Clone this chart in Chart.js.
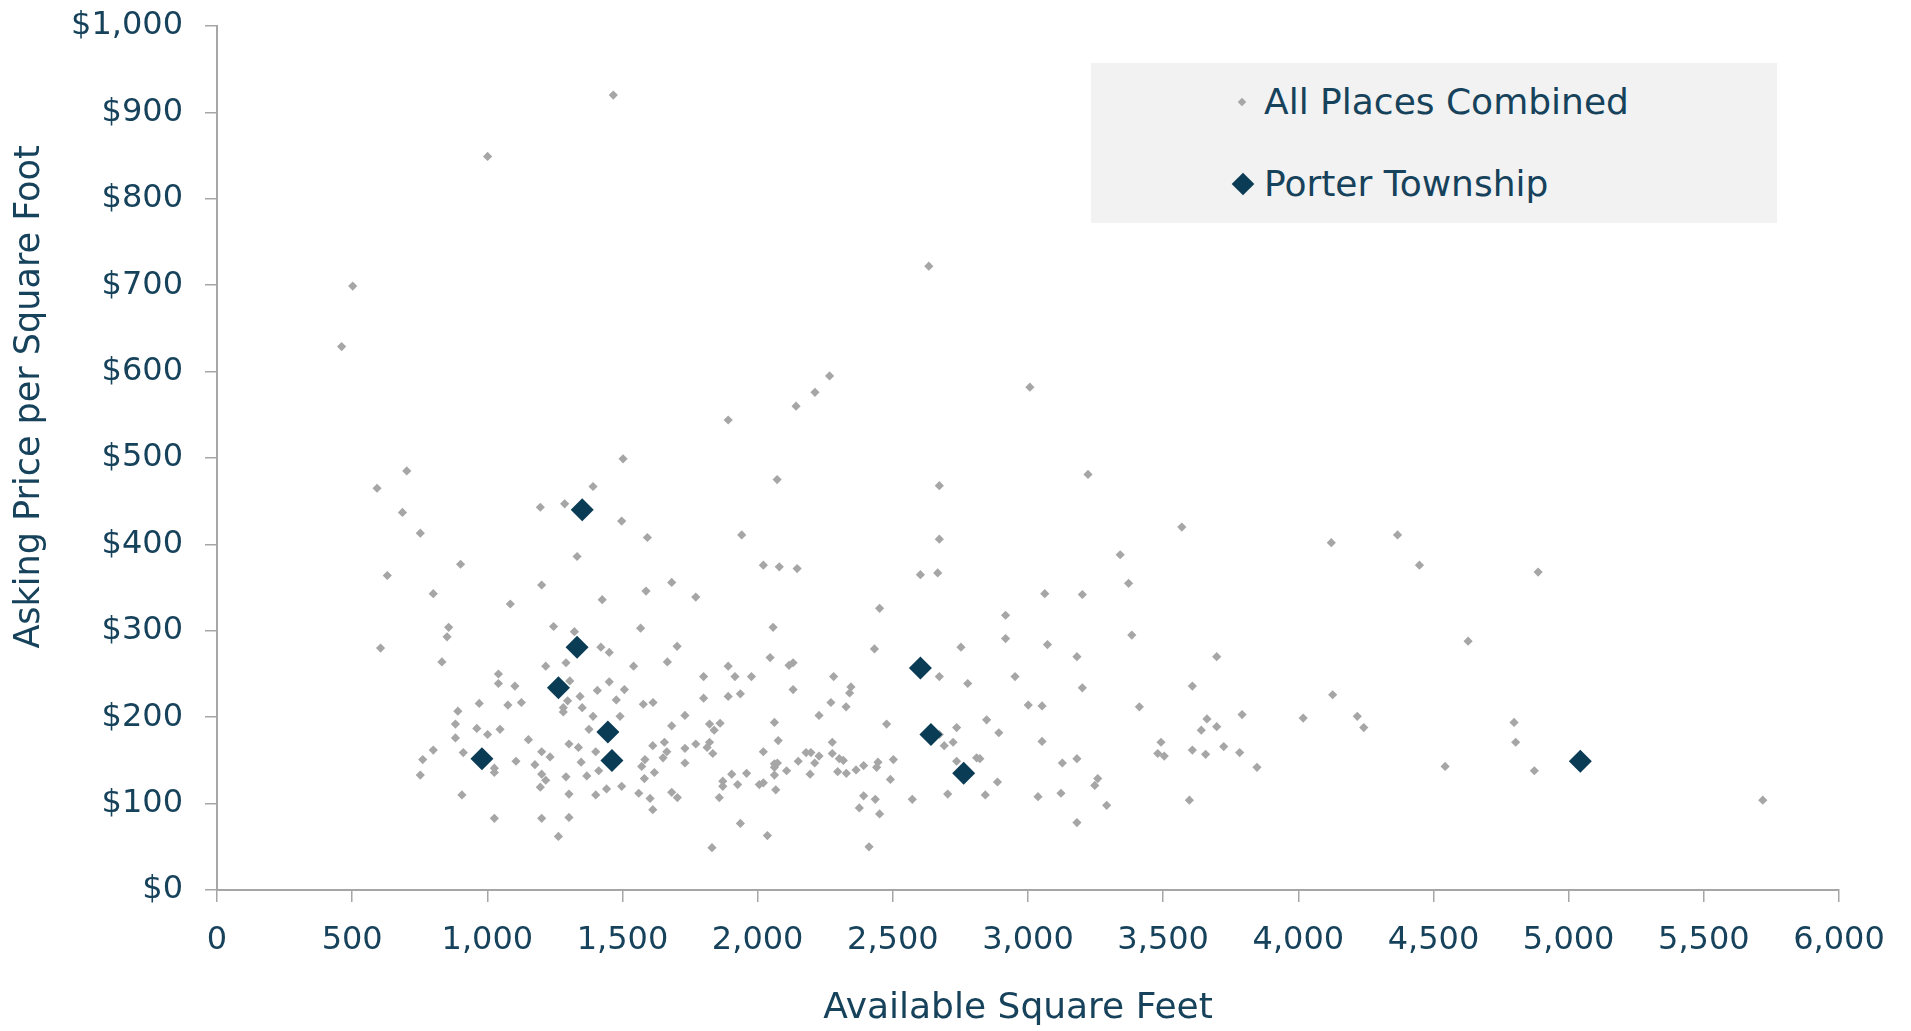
<!DOCTYPE html>
<html>
<head>
<meta charset="utf-8">
<script src="https://cdn.jsdelivr.net/npm/chart.js@4.4.1/dist/chart.umd.min.js"></script>
<style>
    body { margin: 0; background: #ffffff; }
    #caixa { position: relative; width: 1911px; height: 1031px; }
    #legenda {
        position: absolute; left: 1091px; top: 63px; width: 686px; height: 160px;
        background: #f2f2f2; font-family: "DejaVu Sans", sans-serif; color: #16425b;
    }
    .item { position: absolute; left: 0; height: 40px; line-height: 40px; font-size: 36px; }
    .item span { position: absolute; left: 173px; white-space: nowrap; }
    .marca { position: absolute; transform: rotate(45deg); }
</style>
</head>
<body>
<div id="caixa">
    <canvas id="grafico"></canvas>
    <div id="legenda">
        <div class="item" style="top:19px">
            <div class="marca" style="left:148px;top:17px;width:6px;height:6px;background:#a6a6a6"></div>
            <span>All Places Combined</span>
        </div>
        <div class="item" style="top:101px">
            <div class="marca" style="left:144px;top:12px;width:16px;height:16px;background:#0b3c55"></div>
            <span>Porter Township</span>
        </div>
    </div>
</div>
<script>
// pontos de todos os lugares (area em pes quadrados, preco por pe quadrado)
var todosArea = [
    702, 592, 686, 752, 1196, 901, 630, 800, 1201, 1085, 857, 851, 1245, 605, 832, 1216, 1041, 1041, 1102, 970,
    1076, 1126, 891, 882, 961, 1001, 1047, 882, 1152, 800, 761, 911, 1201, 1232, 1106, 1176, 1026, 1026, 752, 1201,
    1216, 1196, 906, 1026, 1201, 1263,
    1502, 1391, 2072, 1286, 1497, 1592, 1941, 1332, 2021, 2080, 2146, 1682, 1587, 1771, 1425, 1322, 1567, 2057, 1420, 1451,
    1702, 1666, 1541, 1291, 2046, 2116, 2131, 1891, 1916, 1977, 1800, 2131, 1305, 1407, 1451, 1507, 1800, 1891, 1936, 1343,
    1297, 1477, 1577, 1613, 1281, 1281, 1351, 1391, 1491, 1731, 1682, 2062, 1822, 1861, 1839, 1376, 2076, 1302, 1337, 1401,
    1612, 1655, 1664, 1650, 1731, 1771, 1822, 1813, 1834, 2021, 2062, 2073, 2062, 2062, 2107, 2150, 2179, 1347, 1412, 1368,
    1291, 1583, 1571, 1581, 1618, 1731, 1904, 1959, 1871, 1871, 1926, 2006, 2021, 2067, 1858, 1441, 1497, 1401, 1302, 1560,
    1602, 1682, 1703, 1612, 1302, 1936, 2036, 1831,
    2672, 2672, 2602, 2666, 3062, 2451, 2917, 2917, 3072, 2432, 2752, 2672, 2952, 2777, 2281, 2345, 2340, 2271, 2327, 2227,
    2477, 3001, 3052, 2847, 2736, 2892, 2672, 2690, 2723, 3052, 2276, 2197, 2227, 2211, 2276, 2302, 2317, 2392, 2445, 2440,
    2502, 2736, 2810, 2822, 2194, 2296, 2328, 2364, 2491, 2887, 2703, 2842, 3037, 2572, 2392, 2435, 2376, 2451, 2412,
    3222, 3569, 3341, 3372, 3201, 3384, 3181, 3698, 3201, 3608, 3412, 3792, 4018, 3662, 3641, 3698, 3492, 3480, 3504, 3608,
    3657, 3724, 3783, 3847, 3127, 3181, 3258, 3247, 3122, 3291, 3181, 3597,
    4122, 4367, 4448, 4887, 4628, 4127, 4218, 4242, 4798, 4804, 4543, 4873, 5718,
    1466, 1001, 502, 461, 1891, 2142, 2633, 2266, 2212, 3007
]
var todosPreco = [
    485, 465, 437, 413, 443, 377, 364, 343, 353, 331, 304, 293, 305, 280, 264, 259, 250, 239, 236, 216,
    214, 217, 207, 192, 187, 180, 186, 176, 174, 162, 151, 159, 160, 154, 149, 145, 141, 136, 133, 134,
    127, 119, 110, 83, 83, 62,
    499, 467, 475, 447, 427, 408, 411, 386, 376, 374, 372, 356, 346, 339, 336, 299, 303, 304, 281, 275,
    282, 264, 259, 263, 269, 260, 263, 259, 247, 247, 247, 232, 242, 231, 241, 232, 222, 224, 227, 224,
    219, 220, 215, 217, 211, 206, 211, 201, 201, 202, 190, 194, 192, 193, 185, 186, 173, 169, 165, 160,
    167, 171, 160, 153, 164, 169, 171, 165, 158, 160, 146, 147, 142, 133, 138, 149, 159, 148, 138, 132,
    131, 151, 143, 129, 136, 147, 134, 135, 126, 120, 122, 122, 124, 116, 107, 117, 120, 110, 111, 112,
    106, 113, 107, 93, 84, 77, 63, 49,
    468, 406, 365, 367, 343, 326, 318, 291, 284, 279, 281, 247, 247, 239, 247, 235, 228, 217, 212, 202,
    192, 214, 213, 197, 188, 182, 180, 167, 171, 172, 171, 159, 155, 147, 158, 152, 150, 144, 148, 142,
    151, 149, 153, 152, 134, 137, 135, 139, 128, 125, 111, 110, 108, 105, 109, 105, 95, 88, 50,
    481, 420, 388, 355, 342, 295, 270, 270, 234, 236, 212, 203, 199, 198, 185, 189, 171, 158, 155, 162,
    157, 166, 159, 142, 147, 152, 129, 121, 112, 98, 78, 104,
    402, 411, 376, 368, 288, 226, 201, 188, 194, 171, 143, 138, 104,
    920, 849, 699, 629, 544, 560, 722, 595, 576, 582
]

// pontos de Porter Township
var porterArea = [1351, 1332, 1263, 1446, 1461, 980, 2602, 2641, 2762, 5043]
var porterPreco = [440, 281, 234, 183, 150, 152, 257, 180, 135, 149]

var nomesSeries = ["All Places Combined", "Porter Township"]
var tituloX = "Available Square Feet"
var tituloY = "Asking Price per Square Foot"

var corTexto = '#16425b'
var corEixo = '#a6a6a6'

Chart.defaults.font.family = '"DejaVu Sans", sans-serif'
Chart.defaults.color = corTexto

function montarPontos(listaX, listaY) {
    var pontos = []
    for (var i = 0; i < listaX.length; i++) {
        pontos.push({ x: listaX[i], y: listaY[i] })
    }
    return pontos
}

// titulos dos eixos desenhados na mesma posicao do original
const titulosEixos = {
    id: 'titulosEixos',
    afterDraw(chart) {
        var ctx = chart.ctx
        ctx.save()
        ctx.fillStyle = corTexto
        ctx.textAlign = 'center'
        ctx.textBaseline = 'middle'
        ctx.font = '36px "DejaVu Sans", sans-serif'
        ctx.fillText(tituloX, 1018, 1009)
        ctx.translate(30, 397)
        ctx.rotate(-Math.PI / 2)
        ctx.font = '35px "DejaVu Sans", sans-serif'
        ctx.fillText(tituloY, 0, 0)
        ctx.restore()
    }
}

const config = {
    type: 'scatter',
    data: {
        datasets: [{
            label: nomesSeries[1],
            data: montarPontos(porterArea, porterPreco),
            backgroundColor: '#0b3c55',
            pointStyle: 'rectRot',
            pointRadius: 11.5,
            pointBorderWidth: 0,
            order: 0
        }, {
            label: nomesSeries[0],
            data: montarPontos(todosArea, todosPreco),
            backgroundColor: '#a6a6a6',
            pointStyle: 'rectRot',
            pointRadius: 4.6,
            pointBorderWidth: 0,
            order: 1
        }]
    },
    options: {
        responsive: true,
        maintainAspectRatio: false,
        animation: false,
        layout: {
            autoPadding: false,
            padding: { left: 0, right: 72, top: 26, bottom: 0 }
        },
        plugins: {
            legend: { display: false },
            tooltip: { enabled: false }
        },
        scales: {
            x: {
                type: 'linear',
                min: 0,
                max: 6000,
                afterFit: function (escala) {
                    escala.height = 141
                    escala.paddingLeft = 0
                    escala.paddingRight = 0
                },
                ticks: {
                    stepSize: 500,
                    padding: 19,
                    font: { size: 32 },
                    color: corTexto,
                    maxRotation: 0,
                    callback: function (valor) { return valor.toLocaleString('en-US') }
                },
                grid: { drawOnChartArea: false, tickLength: 12, color: corEixo, lineWidth: 1.5 },
                border: { color: corEixo, width: 2 }
            },
            y: {
                min: 0,
                max: 1000,
                afterFit: function (escala) {
                    escala.width = 217
                    escala.paddingTop = 0
                    escala.paddingBottom = 0
                },
                ticks: {
                    stepSize: 100,
                    padding: 22,
                    font: { size: 32 },
                    color: corTexto,
                    callback: function (valor) { return '$' + valor.toLocaleString('en-US') }
                },
                grid: { drawOnChartArea: false, tickLength: 12, color: corEixo, lineWidth: 1.5 },
                border: { color: corEixo, width: 2 }
            }
        }
    },
    plugins: [titulosEixos]
}

new Chart(document.getElementById('grafico'), config)
</script>
</body>
</html>
